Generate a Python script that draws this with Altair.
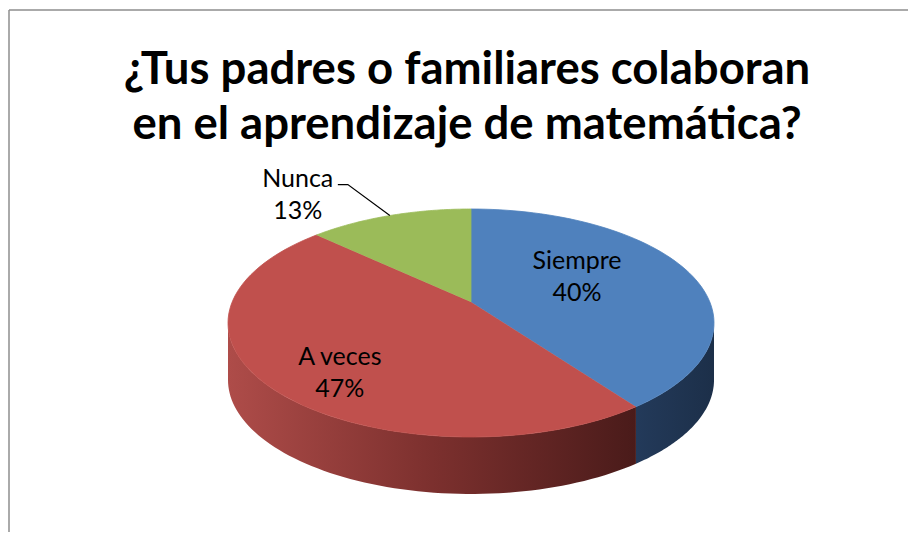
import math
import altair as alt
import pandas as pd

# ---- data ----
categories = ["Siempre", "A veces", "Nunca"]
values = [40, 47, 13]
top_colors = ["#4F81BD", "#C0504D", "#9BBB59"]
title_lines = ["¿Tus padres o familiares colaboran", "en el aprendizaje de matemática?"]

# ---- layout / style ----
W, H = 900, 524
CX, CY = 463, 315          # centre of the top ellipse (chart px)
RX, RY = 243, 114          # ellipse radii
DEPTH = 57                 # thickness of the 3D pie
M = -0.184                 # perspective factor
N = 72                     # samples per arc
SQ = math.sqrt(1 - M * M)
TR = math.acos(M)          # right silhouette angle
TL = 2 * math.pi - TR      # left silhouette angle
FONT = "Lato"

wall_gradients = {
    "Siempre": ["#233A5A", "#1C2F49"],
    "A veces": ["#AE4C49", "#7C302E", "#4A1B1A"],
    "Nunca": ["#6A8438", "#4A5C27"],
}
label_nudge = {"Siempre": (-30, -21), "A veces": (-11, 6), "Nunca": (-69, -12)}

df = pd.DataFrame({"category": categories, "value": values,
                   "idx": list(range(len(categories)))})
df["k"] = [list(range(2 * N + 2)) for _ in range(len(df))]


def px_expr(u, v):
    return f"{CX} + {RX}*({u})*{SQ}/(1 + ({M})*({v}))"


def py_expr(u, v):
    return f"{CY} + {RY}*(({v}) + ({M}))/(1 + ({M})*({v}))"


X = alt.X("px:Q", scale=alt.Scale(domain=[0, W], nice=False, zero=False), axis=None)
Y = alt.Y("py:Q", scale=alt.Scale(domain=[0, H], reverse=True, nice=False, zero=False), axis=None)
color_scale = alt.Scale(domain=categories, range=top_colors)

base = (
    alt.Chart(df)
    .transform_joinaggregate(total="sum(value)")
    .transform_window(cum="sum(value)", sort=[alt.SortField("idx")], frame=[None, 0])
    .transform_calculate(a0="2*PI*(datum.cum - datum.value)/datum.total")
    .transform_calculate(a1="2*PI*datum.cum/datum.total")
    .transform_calculate(mid="(datum.a0 + datum.a1)/2")
    .transform_calculate(share="datum.value/datum.total")
)

layers = []

# side walls (front half only)
for cat in categories:
    cols = wall_gradients[cat]
    stops = [alt.GradientStop(color=c, offset=i / (len(cols) - 1)) for i, c in enumerate(cols)]
    grad = alt.LinearGradient(gradient="linear", stops=stops, x1=0, x2=1, y1=0, y2=0)
    wall = (
        base.transform_filter(alt.datum.category == cat)
        .transform_calculate(w0=f"max(datum.a0, {TR})")
        .transform_calculate(w1=f"min(datum.a1, {TL})")
        .transform_filter("datum.w1 > datum.w0")
        .transform_flatten(["k"])
        .transform_calculate(j=f"datum.k <= {N} ? datum.k : {2 * N + 1} - datum.k")
        .transform_calculate(t=f"datum.w0 + (datum.w1 - datum.w0)*datum.j/{N}")
        .transform_calculate(u="sin(datum.t)")
        .transform_calculate(v="-cos(datum.t)")
        .transform_calculate(px=px_expr("datum.u", "datum.v"))
        .transform_calculate(py=py_expr("datum.u", "datum.v") + f" + (datum.k > {N} ? {DEPTH} : 0)")
        .mark_line(filled=True, color=grad, strokeWidth=0)
        .encode(x=X, y=Y, order="k:Q")
    )
    layers.append(wall)

# top faces
top = (
    base.transform_flatten(["k"])
    .transform_filter(f"datum.k <= {N + 1}")
    .transform_calculate(t=f"datum.a0 + (datum.a1 - datum.a0)*min(datum.k, {N})/{N}")
    .transform_calculate(u=f"datum.k > {N} ? 0 : sin(datum.t)")
    .transform_calculate(v=f"datum.k > {N} ? 0 : -cos(datum.t)")
    .transform_calculate(px=px_expr("datum.u", "datum.v"))
    .transform_calculate(py=py_expr("datum.u", "datum.v"))
    .mark_line(filled=True, strokeWidth=0.8)
    .encode(
        x=X, y=Y, order="k:Q",
        color=alt.Color("category:N", scale=color_scale, legend=None),
        stroke=alt.Stroke("category:N", scale=color_scale, legend=None),
    )
)
layers.append(top)

# leader line for outside labels
leader = (
    base.transform_filter("datum.share < 0.2")
    .transform_flatten(["k"])
    .transform_filter("datum.k <= 2")
    .transform_calculate(u="sin(datum.mid)")
    .transform_calculate(v="-cos(datum.mid)")
    .transform_calculate(ex=px_expr("datum.u", "datum.v"))
    .transform_calculate(ey=py_expr("datum.u", "datum.v"))
    .transform_calculate(px="datum.ex + (datum.k == 0 ? 0 : (datum.k == 1 ? -42 : -52))")
    .transform_calculate(py="datum.ey + (datum.k == 0 ? 0 : -31)")
    .mark_line(color="black", strokeWidth=1.2)
    .encode(x=X, y=Y, order="k:Q")
)
layers.append(leader)

# data labels
for cat in categories:
    dx, dy = label_nudge[cat]
    lab = (
        base.transform_filter(alt.datum.category == cat)
        .transform_calculate(r="datum.share < 0.2 ? 1.35 : 0.62")
        .transform_calculate(u="datum.r*sin(datum.mid)")
        .transform_calculate(v="-datum.r*cos(datum.mid)")
        .transform_calculate(px=px_expr("datum.u", "datum.v"))
        .transform_calculate(py=py_expr("datum.u", "datum.v"))
        .transform_calculate(label="datum.category + '\\n' + format(datum.share, '.0%')")
        .mark_text(font=FONT, fontSize=25, lineBreak="\n", lineHeight=32,
                   align="center", baseline="middle", color="black", dx=dx, dy=dy)
        .encode(x=X, y=Y, text="label:N")
    )
    layers.append(lab)

# chart frame (left and top edges)
one = pd.DataFrame({"a": [0]})
frame_v = alt.Chart(one).mark_rule(color="#8E8E8E", strokeWidth=1.5).encode(
    x=alt.value(1), y=alt.value(2), y2=alt.value(H))
frame_h = alt.Chart(one).mark_rule(color="#8E8E8E", strokeWidth=1.5).encode(
    x=alt.value(1), x2=alt.value(W), y=alt.value(2))
layers += [frame_v, frame_h]

chart = (
    alt.layer(*layers)
    .properties(
        width=W, height=H,
        autosize=alt.AutoSizeParams(type="none"),
        padding=0,
        title=alt.TitleParams(
            text=title_lines, font=FONT, fontSize=45.5, fontWeight="bold", color="black",
            anchor="middle", frame="group", baseline="alphabetic", lineHeight=54.5,
            offset=-75, dx=9, dy=101,
        ),
    )
    .configure_view(stroke=None)
)

chart.save("out.html", embed_options={"renderer": "svg", "actions": False})
